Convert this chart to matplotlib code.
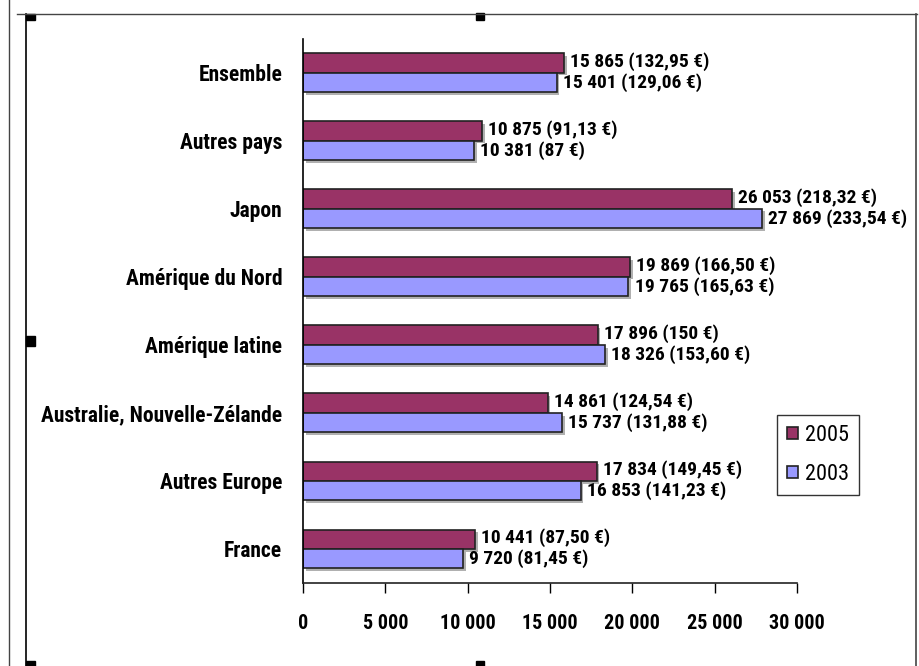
import matplotlib
matplotlib.use("Agg")
import matplotlib.pyplot as plt
import matplotlib.patheffects as pe
from matplotlib import font_manager
from matplotlib.patches import Rectangle
from matplotlib.lines import Line2D
import numpy as np

categories = ["France", "Autres Europe", "Australie, Nouvelle-Zélande", "Amérique latine",
              "Amérique du Nord", "Japon", "Autres pays", "Ensemble"]
values_2005 = [10441, 17834, 14861, 17896, 19869, 26053, 10875, 15865]
values_2003 = [9720, 16853, 15737, 18326, 19765, 27869, 10381, 15401]
labels_2005 = ["10 441 (87,50 €)", "17 834 (149,45 €)", "14 861 (124,54 €)", "17 896 (150 €)",
               "19 869 (166,50 €)", "26 053 (218,32 €)", "10 875 (91,13 €)", "15 865 (132,95 €)"]
labels_2003 = ["9 720 (81,45 €)", "16 853 (141,23 €)", "15 737 (131,88 €)", "18 326 (153,60 €)",
               "19 765 (165,63 €)", "27 869 (233,54 €)", "10 381 (87 €)", "15 401 (129,06 €)"]
xticks = [0, 5000, 10000, 15000, 20000, 25000, 30000]
xticklabels = ["0", "5 000", "10 000", "15 000", "20 000", "25 000", "30 000"]
series_names = ["2005", "2003"]

bold_fonts = {(f.name) for f in font_manager.fontManager.ttflist if f.weight in (700, 'bold')}
narrow = "DejaVu Sans"
for cand in ["Roboto Condensed", "PT Sans Narrow", "Fira Sans Condensed", "IBM Plex Sans Condensed",
             "Encode Sans Condensed"]:
    if cand in bold_fonts:
        narrow = cand
        break
plt.rcParams['font.family'] = [narrow, 'DejaVu Sans']

W, H = 920, 666
fig = plt.figure(figsize=(W / 100, H / 100), dpi=100)
ax = fig.add_axes([303 / W, 1 - 583 / H, (797 - 303) / W, (583 - 38.5) / H])

c05 = "#993366"
c03 = "#9999FF"
y = np.arange(len(categories))
h = 0.285
shadow = [pe.SimplePatchShadow(offset=(2, -2), shadow_rgbFace="#a8a8a8", alpha=0.9), pe.Normal()]
b05 = ax.barh(y + h / 2, values_2005, height=h, color=c05, edgecolor="#222222", linewidth=1.2,
              label=series_names[0], path_effects=shadow)
b03 = ax.barh(y - h / 2, values_2003, height=h, color=c03, edgecolor="#222222", linewidth=1.2,
              label=series_names[1], path_effects=shadow)

for yi, v, t in zip(y, values_2005, labels_2005):
    ax.annotate(t, (v, yi + h / 2), xytext=(4.5, 1), textcoords="offset points",
                va="center", ha="left", fontsize=14, fontweight="bold")
for yi, v, t in zip(y, values_2003, labels_2003):
    ax.annotate(t, (v, yi - h / 2), xytext=(4.5, 0), textcoords="offset points",
                va="center", ha="left", fontsize=14, fontweight="bold")

ax.set_xlim(0, 30000)
ax.set_ylim(-0.5, 7.5)
ax.set_yticks(y)
ax.set_yticklabels(categories, fontsize=15.5, fontweight="bold")
ax.tick_params(axis="y", length=0, pad=15)
ax.set_xticks(xticks)
ax.set_xticklabels(xticklabels, fontsize=14.5, fontweight="bold")
ax.tick_params(axis="x", direction="out", length=7, width=1, pad=15)
for s in ["top", "right"]:
    ax.spines[s].set_visible(False)
ax.spines["left"].set_linewidth(1.2)
ax.spines["bottom"].set_linewidth(1.2)
ax.spines["bottom"].set_color("#222222")

leg = fig.legend(handles=[b05, b03], labels=series_names,
                 loc="upper left", bbox_to_anchor=(777 / W, 1 - 415 / H),
                 frameon=True, fancybox=False, edgecolor="black",
                 prop={"family": [narrow, "DejaVu Sans"], "size": 16},
                 handlelength=0.5, handleheight=0.5, handletextpad=0.3,
                 labelspacing=0.8, borderpad=0.45, borderaxespad=0)
leg.get_frame().set_linewidth(1.0)
for hnd in leg.legend_handles:
    hnd.set_path_effects([])

def fx(px):
    return px / W

def fy(py):
    return 1 - py / H

# frame lines
fig.add_artist(Line2D([fx(9), fx(9)], [fy(0), fy(666)], color="#444444", lw=1.0))
fig.add_artist(Line2D([fx(26), fx(26)], [fy(14), fy(666)], color="black", lw=1.2))
fig.add_artist(Line2D([fx(17), fx(917)], [fy(14), fy(14)], color="#444444", lw=1.0))
fig.add_artist(Line2D([fx(916), fx(916)], [fy(14), fy(666)], color="#444444", lw=1.2))
# handles
for (x0, y0, w0, h0) in [(26, 14, 9, 6), (476, 13, 8, 7), (26, 336, 9, 10),
                         (26, 661, 9, 5), (476, 661, 8, 5)]:
    fig.add_artist(Rectangle((fx(x0), fy(y0 + h0)), w0 / W, h0 / H,
                             transform=fig.transFigure, color="black"))

fig.savefig("out.png", dpi=100)
